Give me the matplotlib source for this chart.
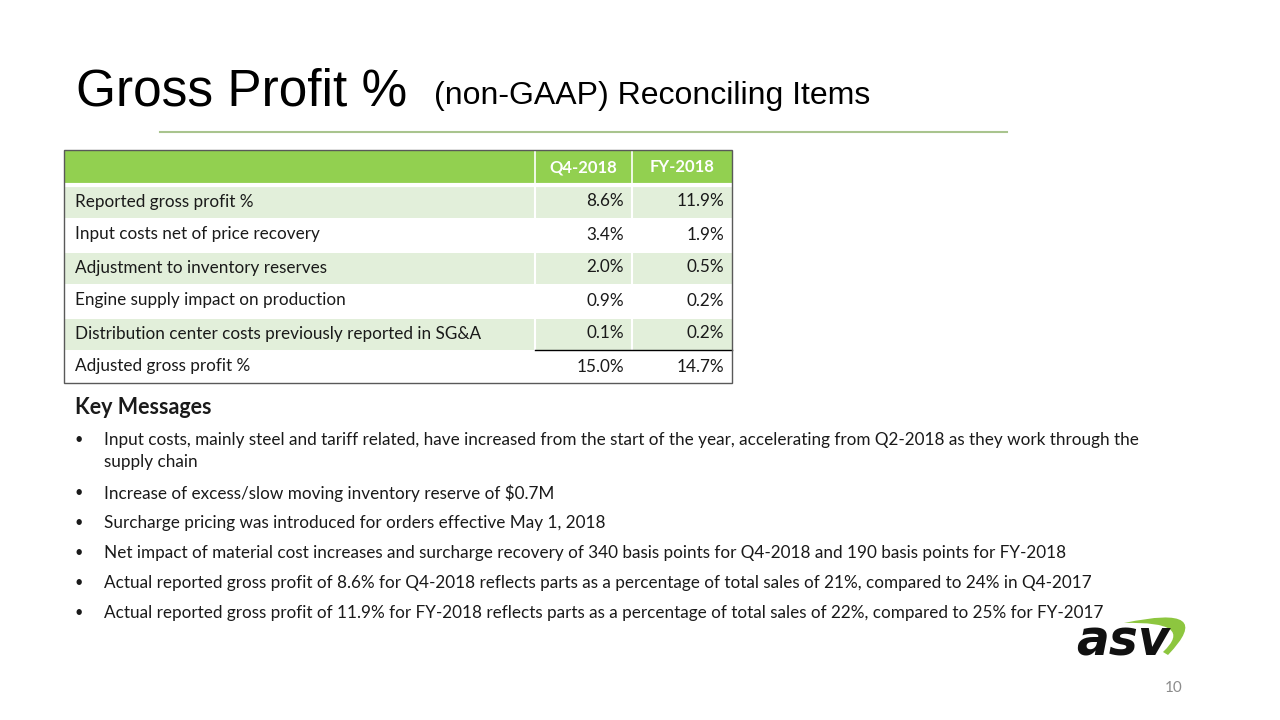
import matplotlib
matplotlib.use("Agg")
from matplotlib import pyplot as plt
from matplotlib.patches import Rectangle, PathPatch
from matplotlib.path import Path

# table data
col_heads = ["Q4-2018", "FY-2018"]
row_labels = ["Reported gross profit %",
              "Input costs net of price recovery",
              "Adjustment to inventory reserves",
              "Engine supply impact on production",
              "Distribution center costs previously reported in SG&A",
              "Adjusted gross profit %"]
q4_vals = [8.6, 3.4, 2.0, 0.9, 0.1, 15.0]
fy_vals = [11.9, 1.9, 0.5, 0.2, 0.2, 14.7]

bullets = [
    "Input costs, mainly steel and tariff related, have increased from the start of the year, accelerating from Q2-2018 as they work through the\nsupply chain",
    "Increase of excess/slow moving inventory reserve of $0.7M",
    "Surcharge pricing was introduced for orders effective May 1, 2018",
    "Net impact of material cost increases and surcharge recovery of 340 basis points for Q4-2018 and 190 basis points for FY-2018",
    "Actual reported gross profit of 8.6% for Q4-2018 reflects parts as a percentage of total sales of 21%, compared to 24% in Q4-2017",
    "Actual reported gross profit of 11.9% for FY-2018 reflects parts as a percentage of total sales of 22%, compared to 25% for FY-2017",
]
bullet_y = [440, 493, 523, 553, 583, 613]

body_font = "Lato"
green = "#92D050"
light = "#E2EFDA"
txt = "#1a1a1a"

fig = plt.figure(figsize=(12.8, 7.2), dpi=100)
ax = fig.add_axes([0, 0, 1, 1])
ax.set_xlim(0, 1280)
ax.set_ylim(720, 0)
ax.axis("off")

# title
ax.text(76, 105, "Gross Profit %", fontsize=37, family="Liberation Sans", va="baseline")
ax.text(434, 104, "(non-GAAP) Reconciling Items", fontsize=23, family="Liberation Sans", va="baseline")
ax.plot([160, 1007], [132, 132], color="#A9C48E", lw=1.5)

# table
x0, x1, x2, x3 = 64, 535, 632, 732
top, head_h, row_h = 150, 35, 33
ax.add_patch(Rectangle((x0, top), x3 - x0, head_h, color=green, lw=0))
ax.text((x1 + x2) / 2, top + head_h / 2, col_heads[0], ha="center", va="center",
        color="white", fontsize=12, weight="bold", family=body_font)
ax.text((x2 + x3) / 2, top + head_h / 2, col_heads[1], ha="center", va="center",
        color="white", fontsize=12, weight="bold", family=body_font)
ax.plot([x1, x1], [top, top + head_h], color="white", lw=1.2)
ax.plot([x2, x2], [top, top + head_h], color="white", lw=1.2)
ax.plot([x0, x3], [top + head_h, top + head_h], color="white", lw=3)

for i, (lab, q, f) in enumerate(zip(row_labels, q4_vals, fy_vals)):
    y = top + head_h + i * row_h
    if i % 2 == 0:
        ax.add_patch(Rectangle((x0, y + 1.5), x3 - x0, row_h - 1.5, color=light, lw=0))
        ax.plot([x1, x1], [y, y + row_h], color="white", lw=1.5)
        ax.plot([x2, x2], [y, y + row_h], color="white", lw=1.5)
    ax.text(x0 + 11, y + row_h / 2, lab, va="center", fontsize=12.3, family=body_font, color=txt)
    ax.text(x2 - 8, y + row_h / 2, f"{q:.1f}%", va="center", ha="right", fontsize=12.3, family=body_font, color=txt)
    ax.text(x3 - 8, y + row_h / 2, f"{f:.1f}%", va="center", ha="right", fontsize=12.3, family=body_font, color=txt)

bottom = top + head_h + len(row_labels) * row_h
ax.plot([x1, x3], [bottom - row_h, bottom - row_h], color="black", lw=1)
ax.add_patch(Rectangle((x0, top), x3 - x0, bottom - top, fill=False, ec="#595959", lw=1, zorder=3))

# key messages
ax.text(75, 407, "Key Messages", fontsize=15.5, weight="bold", family=body_font, va="center", color=txt)
for y, b in zip(bullet_y, bullets):
    ax.text(75, y, "\u2022", fontsize=10.5, family=body_font, va="center", color=txt)
    for k, line in enumerate(b.split("\n")):
        ax.text(104, y + k * 22, line, fontsize=12.3, family=body_font, va="center", color=txt)

# logo
swoosh = Path([(1124, 623), (1218, 603), (1168, 655), (1163, 652), (1196, 621), (1124, 623)],
              [Path.MOVETO, Path.CURVE3, Path.CURVE3, Path.LINETO, Path.CURVE3, Path.CURVE3])
ax.add_patch(PathPatch(swoosh, color="#8DC63F", lw=0))
ax.text(1076, 656, "asv", fontsize=35, weight="black", style="italic", family="DejaVu Sans",
        color="#111111", va="baseline")

ax.text(1183, 688, "10", fontsize=11, family=body_font, color="#8C8C8C", ha="right", va="center")

fig.savefig("out.png", dpi=100)
